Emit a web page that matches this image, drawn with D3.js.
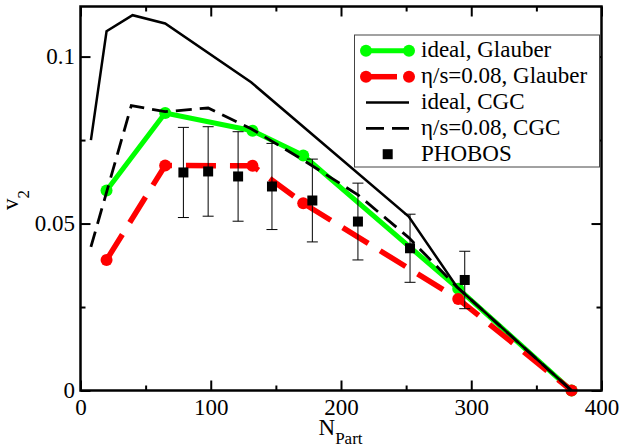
<!DOCTYPE html>
<html>
<head>
<meta charset="utf-8">
<script src="https://cdn.jsdelivr.net/npm/d3@7"></script>
<style>
  html, body { margin: 0; padding: 0; background: #fff; }
  svg, svg text { font-family: 'Liberation Serif', 'Tinos', 'Times New Roman', 'DejaVu Serif', 'Noto Serif', serif; }
</style>
</head>
<body>
<svg id="chart" width="621" height="447"></svg>
<script>
// ---- data ----
const idealGlauberX = [20, 65, 132, 171, 290, 377];
const idealGlauberY = [0.0599, 0.0831, 0.0778, 0.0704, 0.0305, 0];

const viscGlauberX = [20, 65, 132, 171, 290, 377];
const viscGlauberY = [0.0391, 0.0674, 0.0673, 0.0561, 0.0274, 0];

const idealCGCX = [8, 20, 40, 65, 131, 252, 289, 377];
const idealCGCY = [0.075, 0.1076, 0.1124, 0.1099, 0.0923, 0.0521, 0.031, 0];

const viscCGCX = [8, 39, 65, 98, 131, 171, 213, 252, 289, 377];
const viscCGCY = [0.043, 0.0853, 0.0835, 0.0846, 0.0784, 0.069, 0.0586, 0.0458, 0.031, 0];

const phobosX = [79, 98, 121, 147, 178, 213, 253, 295];
const phobosY = [0.0653, 0.0656, 0.0641, 0.0611, 0.0569, 0.0506, 0.0426, 0.0331];
const phobosErr = [0.0135, 0.0134, 0.0134, 0.0129, 0.0124, 0.0115, 0.0102, 0.0086];

const xMajorTicks = [0, 100, 200, 300, 400];
const xMinorTicks = [50, 150, 250, 350];
const yMajorTicks = [0, 0.05, 0.1];
const yMinorTicks = [0.025, 0.075];
const yTickLabels = ["0", "0.05", "0.1"];

const legendLabels = ["ideal, Glauber", "η/s=0.08, Glauber", "ideal, CGC", "η/s=0.08, CGC", "PHOBOS"];

// ---- layout ----
const FONT = "'Liberation Serif', 'Tinos', 'Times New Roman', 'DejaVu Serif', 'Noto Serif', serif";
const L = 80.5, R = 601.5, T = 6.5, B = 390.5;
const x = d3.scaleLinear().domain([0, 400]).range([L, R]);
const y = d3.scaleLinear().domain([0, 0.115]).range([B, T]);

const svg = d3.select("#chart").attr("font-family", FONT);
const zip = (xs, ys) => xs.map((v, i) => [v, ys[i]]);
const line = d3.line().x(d => x(d[0])).y(d => y(d[1]));

// ---- axes (inward ticks on all four sides) ----
function styleAxis(g) {
  g.attr("font-family", FONT);
  g.select(".domain").remove();
  g.selectAll(".tick line").attr("stroke", "#000").attr("stroke-width", 2);
  g.selectAll(".tick text").attr("fill", "#000").attr("font-size", 23)
    .attr("font-family", FONT);
}
svg.append("g").attr("transform", `translate(0,${B})`)
  .call(d3.axisBottom(x).tickValues(xMajorTicks).tickSize(-10).tickPadding(8.2).tickFormat(d3.format("d")))
  .call(styleAxis);
svg.append("g").attr("transform", `translate(0,${B})`)
  .call(d3.axisBottom(x).tickValues(xMinorTicks).tickSize(-5).tickFormat(""))
  .call(styleAxis);
svg.append("g").attr("transform", `translate(0,${T})`)
  .call(d3.axisTop(x).tickValues(xMajorTicks).tickSize(-10).tickFormat(""))
  .call(styleAxis);
svg.append("g").attr("transform", `translate(0,${T})`)
  .call(d3.axisTop(x).tickValues(xMinorTicks).tickSize(-5).tickFormat(""))
  .call(styleAxis);
svg.append("g").attr("transform", `translate(${L},0)`)
  .call(d3.axisLeft(y).tickValues(yMajorTicks).tickSize(-10).tickPadding(5.5)
    .tickFormat((d, i) => yTickLabels[i]))
  .call(styleAxis);
svg.append("g").attr("transform", `translate(${L},0)`)
  .call(d3.axisLeft(y).tickValues(yMinorTicks).tickSize(-5).tickFormat(""))
  .call(styleAxis);
svg.append("g").attr("transform", `translate(${R},0)`)
  .call(d3.axisRight(y).tickValues(yMajorTicks).tickSize(-10).tickFormat(""))
  .call(styleAxis);
svg.append("g").attr("transform", `translate(${R},0)`)
  .call(d3.axisRight(y).tickValues(yMinorTicks).tickSize(-5).tickFormat(""))
  .call(styleAxis);

// ---- series ----
const plot = svg.append("g");
// ideal, Glauber
plot.append("path").datum(zip(idealGlauberX, idealGlauberY)).attr("d", line)
  .attr("fill", "none").attr("stroke", "#00ff00").attr("stroke-width", 5);
plot.selectAll(".gdot").data(zip(idealGlauberX, idealGlauberY)).join("circle")
  .attr("cx", d => x(d[0])).attr("cy", d => y(d[1])).attr("r", 6).attr("fill", "#00ff00");
// eta/s, Glauber
plot.append("path").datum(zip(viscGlauberX, viscGlauberY)).attr("d", line)
  .attr("fill", "none").attr("stroke", "#ff0000").attr("stroke-width", 5.5)
  .attr("stroke-dasharray", "30,14");
plot.selectAll(".rdot").data(zip(viscGlauberX, viscGlauberY)).join("circle")
  .attr("cx", d => x(d[0])).attr("cy", d => y(d[1])).attr("r", 6).attr("fill", "#ff0000");
// ideal, CGC
plot.append("path").datum(zip(idealCGCX, idealCGCY)).attr("d", line)
  .attr("fill", "none").attr("stroke", "#000").attr("stroke-width", 2.5);
// eta/s, CGC
plot.append("path").datum(zip(viscCGCX, viscCGCY)).attr("d", line)
  .attr("fill", "none").attr("stroke", "#000").attr("stroke-width", 2.8)
  .attr("stroke-dasharray", "16,8");
// PHOBOS
const ph = phobosX.map((v, i) => ({x: v, y: phobosY[i], e: phobosErr[i]}));
const eb = plot.append("g").attr("stroke", "#000").attr("stroke-width", 1);
eb.selectAll(".ev").data(ph).join("line")
  .attr("x1", d => x(d.x)).attr("x2", d => x(d.x))
  .attr("y1", d => y(d.y + d.e)).attr("y2", d => y(d.y - d.e));
eb.selectAll(".et").data(ph).join("line")
  .attr("x1", d => x(d.x) - 5.5).attr("x2", d => x(d.x) + 5.5)
  .attr("y1", d => y(d.y + d.e)).attr("y2", d => y(d.y + d.e));
eb.selectAll(".eb").data(ph).join("line")
  .attr("x1", d => x(d.x) - 5.5).attr("x2", d => x(d.x) + 5.5)
  .attr("y1", d => y(d.y - d.e)).attr("y2", d => y(d.y - d.e));
plot.selectAll(".sq").data(ph).join("rect")
  .attr("x", d => x(d.x) - 5).attr("y", d => y(d.y) - 5)
  .attr("width", 10).attr("height", 10).attr("fill", "#000");

// ---- frame ----
svg.append("rect").attr("x", L).attr("y", T).attr("width", R - L).attr("height", B - T)
  .attr("fill", "none").attr("stroke", "#000").attr("stroke-width", 2.5);

// ---- legend ----
const lg = svg.append("g");
lg.append("rect").attr("x", 354.5).attr("y", 35).attr("width", 245).attr("height", 132)
  .attr("fill", "#fff").attr("stroke", "#444").attr("stroke-width", 1);
const rowY = [50.8, 76.7, 102.5, 128.3, 154.2];
const lx0 = 366, lx1 = 409;
lg.append("line").attr("x1", lx0).attr("x2", lx1).attr("y1", rowY[0]).attr("y2", rowY[0])
  .attr("stroke", "#00ff00").attr("stroke-width", 5);
[lx0, lx1].forEach(cx => lg.append("circle").attr("cx", cx).attr("cy", rowY[0]).attr("r", 6).attr("fill", "#00ff00"));
lg.append("line").attr("x1", lx0).attr("x2", lx1).attr("y1", rowY[1]).attr("y2", rowY[1])
  .attr("stroke", "#ff0000").attr("stroke-width", 5.5).attr("stroke-dasharray", "31,14");
[lx0, lx1].forEach(cx => lg.append("circle").attr("cx", cx).attr("cy", rowY[1]).attr("r", 6).attr("fill", "#ff0000"));
lg.append("line").attr("x1", lx0).attr("x2", lx1).attr("y1", rowY[2]).attr("y2", rowY[2])
  .attr("stroke", "#000").attr("stroke-width", 2.5);
lg.append("line").attr("x1", lx0).attr("x2", lx1).attr("y1", rowY[3]).attr("y2", rowY[3])
  .attr("stroke", "#000").attr("stroke-width", 2.8).attr("stroke-dasharray", "18,8");
lg.append("rect").attr("x", 387.7 - 5).attr("y", rowY[4] - 5).attr("width", 10).attr("height", 10).attr("fill", "#000");
lg.selectAll(".lt").data(legendLabels).join("text")
  .attr("x", 421).attr("y", (d, i) => rowY[i] + 6.5)
  .attr("font-family", FONT)
  .attr("font-size", 23).attr("fill", "#000").text(d => d);

// ---- axis titles ----
const xt = svg.append("text").attr("x", 318.5).attr("y", 435).attr("font-size", 23)
  .attr("font-family", FONT).attr("fill", "#000");
xt.append("tspan").text("N");
xt.append("tspan").attr("font-size", 17).attr("dy", 9).text("Part");

const yt = svg.append("text").attr("transform", "translate(18,210) rotate(-90)")
  .attr("font-family", FONT).attr("font-size", 23).attr("fill", "#000");
yt.append("tspan").text("v");
yt.append("tspan").attr("font-size", 17).attr("dy", 11).text("2");
</script>
</body>
</html>
